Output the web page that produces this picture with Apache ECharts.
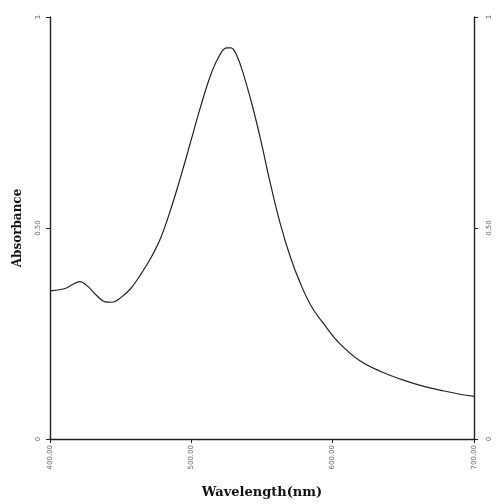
<!DOCTYPE html>
<html><head><meta charset="utf-8">
<script src="https://cdn.jsdelivr.net/npm/echarts@6/dist/echarts.min.js"></script>
<style>html,body{margin:0;padding:0;background:#fff}#c{width:496px;height:504px}</style>
</head><body><div id="c"></div>
<script>
const wavelength = [400,410,416,421,427,433,439,444,450,457,464,471,478,485,492,499,506,513,519,525,528,532,537,543,549,556,563,570,577,585,595,605,619,634,648,662,676,690,700];
const absorbance = [0.351,0.356,0.366,0.373,0.361,0.340,0.325,0.324,0.335,0.356,0.389,0.427,0.474,0.540,0.616,0.698,0.781,0.856,0.903,0.927,0.927,0.910,0.863,0.792,0.710,0.604,0.509,0.432,0.370,0.314,0.267,0.226,0.186,0.160,0.142,0.127,0.116,0.106,0.101];
const xTickLabels = {400:'400.00',500:'500.00',600:'600.00',700:'700.00'};
const yTickLabels = {0:'0',0.5:'0.50',1:'1'};

const chart = echarts.init(document.getElementById('c'));
const axisLine = {show:true, lineStyle:{color:'#222', width:1.4}};
const yAxisCommon = {
  type:'value', min:0, max:1, interval:0.5,
  axisLine: axisLine,
  axisTick:{show:true, length:4, lineStyle:{color:'#222'}},
  splitLine:{show:false},
  axisLabel:{rotate:90, fontSize:7, color:'#666', margin:8, fontFamily:'DejaVu Sans',
    formatter:v=>yTickLabels[v] ?? ''}
};
chart.setOption({
  animation:false,
  backgroundColor:'#fff',
  grid:{left:50, right:22, top:17, bottom:63},
  xAxis:{
    type:'value', min:400, max:700, interval:100,
    axisLine: axisLine,
    axisTick:{show:true, length:4, lineStyle:{color:'#222'}},
    splitLine:{show:false},
    axisLabel:{rotate:90, fontSize:7, color:'#666', margin:6, fontFamily:'DejaVu Sans',
      formatter:v=>xTickLabels[v] ?? ''},
    name:'Wavelength(nm)', nameLocation:'middle', nameGap:47,
    nameTextStyle:{fontSize:13, fontWeight:'bold', color:'#111', fontFamily:'DejaVu Serif'}
  },
  yAxis:[
    Object.assign({}, yAxisCommon, {position:'left',
      name:'Absorbance', nameLocation:'middle', nameGap:26,
      nameTextStyle:{fontSize:12, fontWeight:'bold', color:'#111', fontFamily:'DejaVu Serif'}}),
    Object.assign({}, yAxisCommon, {position:'right', axisLabel:Object.assign({}, yAxisCommon.axisLabel, {margin:12})})
  ],
  series:[{
    type:'line', yAxisIndex:0, showSymbol:false, smooth:0.4,
    lineStyle:{color:'#222', width:1.2},
    data: wavelength.map((w,i)=>[w, absorbance[i]])
  }]
});
</script></body></html>
